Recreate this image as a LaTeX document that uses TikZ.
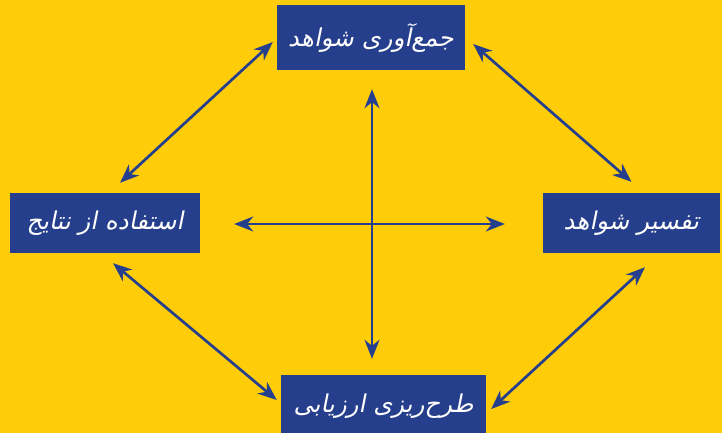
\documentclass[tikz,border=0pt]{standalone}
\usepackage{fontspec}
\usetikzlibrary{arrows.meta,calc}
\TeXXeTstate=1
\newfontfamily\persianfont[Script=Arabic,FakeSlant=0.2]{DejaVu Sans}
\definecolor{bgyellow}{HTML}{FFCC0A}
\definecolor{boxblue}{HTML}{263F8C}
\begin{document}
\begin{tikzpicture}[x=1pt,y=-1pt,
    stagebox/.style={fill=boxblue,text=white,inner sep=0pt,font=\persianfont\fontsize{24.5}{28}\selectfont},
    cyclearrow/.style={draw=boxblue,line width=2.7pt,{Stealth[length=19pt,width=15pt,inset=6pt]}-{Stealth[length=19pt,width=15pt,inset=6pt]}}]
    \useasboundingbox (0,0) rectangle (722,433);
    \fill[bgyellow] (0,0) rectangle (722,433);

    % stages
    \node[stagebox,minimum width=188pt,minimum height=65pt] (gather) at (371,37.5) {\beginR جمع‌آوری شواهد\endR};
    \node[stagebox,minimum width=190pt,minimum height=60pt] (use) at (105,223) {\beginR استفاده از نتایج\endR};
    \node[stagebox,minimum width=177pt,minimum height=60pt] (interpret) at (631.5,223) {\beginR تفسیر شواهد\endR};
    \node[stagebox,minimum width=205pt,minimum height=63pt] (plan) at (383.5,406.5) {\beginR طرح‌ریزی ارزیابی\endR};

    % arrows round the cycle
    \draw[cyclearrow] ($(gather.west)+(-4,4.5)$) -- ($(use.north)+(15,-10)$);
    \draw[cyclearrow] ($(gather.east)+(8,6.5)$) -- ($(interpret.north)+(0,-11)$);
    \draw[cyclearrow] ($(interpret.south)+(13.5,14)$) -- ($(plan.east)+(5,2.5)$);
    \draw[cyclearrow] ($(use.south)+(8,10)$) -- ($(plan.west)+(-4,-6.5)$);

    % cross in the middle
    \draw[cyclearrow] ($(use.east)+(34,1)$) -- ($(interpret.west)+(-38,1)$);
    \draw[cyclearrow] ($(gather.south)+(1,19)$) -- ($(plan.north)+(-11.5,-16)$);
\end{tikzpicture}
\end{document}
